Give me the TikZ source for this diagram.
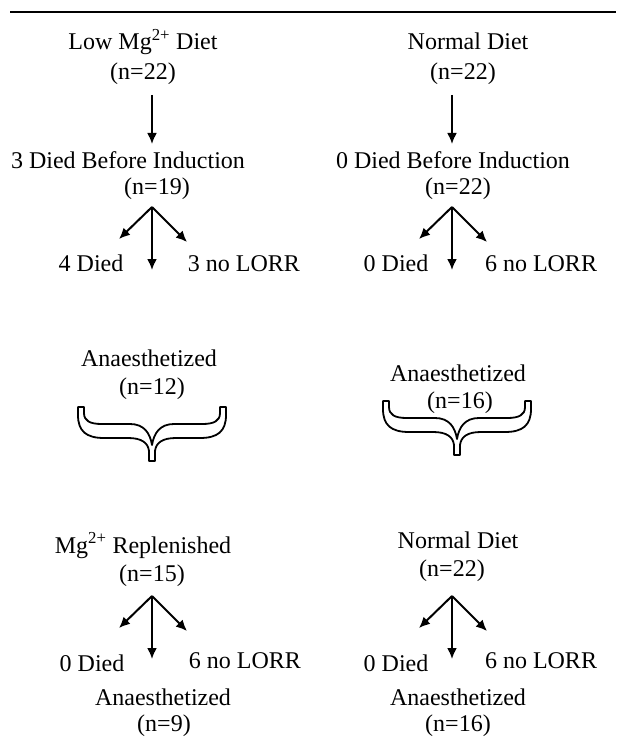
\documentclass[tikz,border=0pt]{standalone}
\usepackage{fontspec}
\setmainfont{Liberation Serif}
\usetikzlibrary{arrows.meta}
\begin{document}
\begin{tikzpicture}[x=1pt,y=-1pt,
  txt/.style={font=\fontsize{24}{28}\selectfont, inner sep=0pt, anchor=base},
  arr/.style={line width=2pt, -{Latex[length=11pt,width=10pt]}},
  bracestyle/.style={line width=1.8pt, line join=round},
  hbrace/.pic={
    \draw[bracestyle] (-74,0) -- (-68,0) -- (-68,6) .. controls (-68,14) and (-62,17) .. (-50,17) -- (-22,17) .. controls (-8,17) and (-2,26) .. (0,38) .. controls (2,26) and (8,17) .. (22,17) -- (50,17) .. controls (62,17) and (68,14) .. (68,6) -- (68,0) -- (74,0) -- (74,8) .. controls (74,24) and (66,31) .. (48,31) -- (24,31) .. controls (10,31) and (4,36) .. (3,44) -- (3,54) -- (-3,54) -- (-3,44) .. controls (-4,36) and (-10,31) .. (-24,31) -- (-48,31) .. controls (-66,31) and (-74,24) .. (-74,8) -- cycle;
  }]
\useasboundingbox (0,0) rectangle (616,738);
% top rule
\coordinate (ruleL) at (10,12);
\coordinate (ruleR) at (616,12);
\draw[line width=2pt] (ruleL) -- (ruleR);

% left column
\node[txt] (lowmg) at (143,50) {Low Mg\textsuperscript{2+} Diet};
\node[txt] (nA1) at (143,80) {(n=22)};
\node[txt] (died3) at (128,168) {3 Died Before Induction};
\node[txt] (n19) at (157,194) {(n=19)};
\node[txt] (died4) at (91,271) {4 Died};
\node[txt] (lorr3) at (244,271) {3 no LORR};
\node[txt] (an12) at (149,366) {Anaesthetized};
\node[txt] (n12) at (152,394) {(n=12)};
\node[txt] (mgrep) at (143,553) {Mg\textsuperscript{2+} Replenished};
\node[txt] (n15) at (152,581) {(n=15)};
\node[txt] (died0c) at (92,671) {0 Died};
\node[txt] (lorr6b) at (245,668) {6 no LORR};
\node[txt] (an9) at (163,705) {Anaesthetized};
\node[txt] (n9) at (164,731) {(n=9)};

% right column
\node[txt] (normA) at (468,50) {Normal Diet};
\node[txt] (nA2) at (463,80) {(n=22)};
\node[txt] (died0) at (453,168) {0 Died Before Induction};
\node[txt] (n22b) at (458,194) {(n=22)};
\node[txt] (died0b) at (396,271) {0 Died};
\node[txt] (lorr6a) at (541,271) {6 no LORR};
\node[txt] (an16) at (458,381) {Anaesthetized};
\node[txt] (n16) at (460,408) {(n=16)};
\node[txt] (norm2) at (458,548) {Normal Diet};
\node[txt] (n22c) at (452,576) {(n=22)};
\node[txt] (died0d) at (396,671) {0 Died};
\node[txt] (lorr6c) at (541,668) {6 no LORR};
\node[txt] (an16b) at (458,705) {Anaesthetized};
\node[txt] (n16b) at (458,731) {(n=16)};

% straight arrows
\coordinate (aLs) at (152,95);  \coordinate (aLe) at (152,144);
\coordinate (aRs) at (452,95);  \coordinate (aRe) at (452,144);
\draw[arr] (aLs) -- (aLe);
\draw[arr] (aRs) -- (aRe);

% branch arrows
\foreach \nm/\ax/\ay in {b1/152/207, b2/452/207, b3/152/596, b4/452/596}{
  \coordinate (\nm apex) at (\ax,\ay);
  \coordinate (\nm left) at (\ax-33,\ay+32);
  \coordinate (\nm right) at (\ax+35,\ay+35);
  \coordinate (\nm mid) at (\ax,\ay+63);
  \draw[arr] (\nm apex) -- (\nm left);
  \draw[arr] (\nm apex) -- (\nm right);
  \draw[arr] (\nm apex) -- (\nm mid);
}

% braces
\pic at (152,407) {hbrace};
\pic at (457,401) {hbrace};
\end{tikzpicture}
\end{document}
